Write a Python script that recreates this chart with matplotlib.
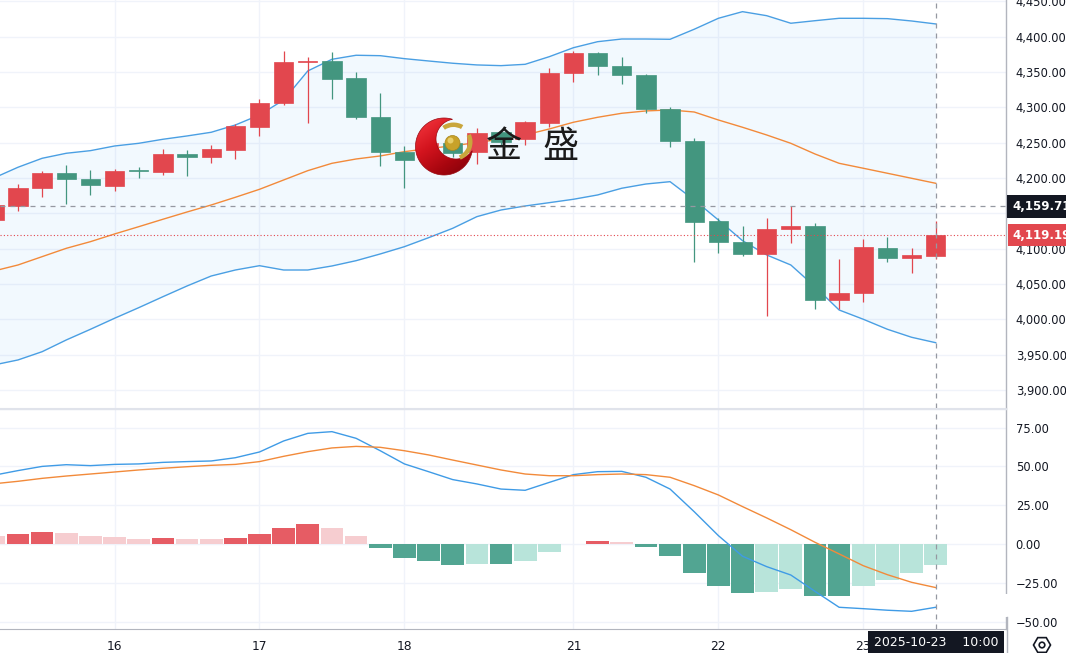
import matplotlib
matplotlib.use('Agg')
import matplotlib.pyplot as plt
import numpy as np
from matplotlib.patches import Polygon, Circle, Wedge, RegularPolygon, Rectangle
from matplotlib.lines import Line2D
from matplotlib.colors import LinearSegmentedColormap
import matplotlib.transforms as mtransforms

plt.rcParams['font.family'] = ['DejaVu Sans', 'Noto Sans CJK SC']

# ---------------- data (4H candles, first one partially visible) ----------------
opens = [4140.6, 4160.4, 4185.5, 4207.5, 4198.6, 4189.1, 4210.5, 4208.5, 4234.0, 4230.2,
         4239.7, 4272.6, 4305.7, 4364.2, 4366.0, 4341.6, 4286.8, 4237.3, 4225.5, 4249.1,
         4236.4, 4264.7, 4254.8, 4278.3, 4348.2, 4376.5, 4359.0, 4345.8, 4297.3, 4252.4,
         4139.6, 4109.0, 4092.0, 4128.3, 4132.1, 4027.4, 4036.9, 4101.4, 4086.8, 4089.6]
closes = [4161.8, 4186.3, 4207.5, 4198.2, 4190.1, 4209.9, 4209.5, 4233.6, 4230.2, 4240.6,
          4273.6, 4306.6, 4364.6, 4366.0, 4339.7, 4285.9, 4236.4, 4225.5, 4249.5, 4235.8,
          4264.1, 4251.4, 4278.9, 4348.2, 4376.5, 4359.0, 4345.8, 4297.3, 4252.4, 4137.3,
          4109.0, 4092.5, 4127.9, 4132.1, 4027.4, 4037.7, 4102.8, 4087.2, 4090.6, 4119.19]
highs = [4164.5, 4191.1, 4209.9, 4218.4, 4211.4, 4212.8, 4215.2, 4241.5, 4239.7, 4246.7,
         4276.5, 4311.8, 4379.3, 4370.8, 4377.9, 4349.6, 4319.9, 4245.3, 4256.0, 4252.0,
         4270.4, 4268.0, 4281.0, 4355.3, 4380.2, 4378.8, 4370.8, 4347.5, 4300.9, 4256.2,
         4143.1, 4132.1, 4143.8, 4159.71, 4135.9, 4085.4, 4113.7, 4116.1, 4100.5, 4139.2]
lows = [4137.0, 4153.8, 4173.6, 4163.2, 4175.6, 4182.1, 4200.5, 4204.7, 4203.3, 4221.7,
        4227.3, 4259.9, 4303.5, 4278.3, 4312.3, 4283.5, 4217.0, 4185.5, 4219.0, 4230.0,
        4219.4, 4246.0, 4246.7, 4272.6, 4336.3, 4345.8, 4332.6, 4292.4, 4244.3, 4081.6,
        4094.3, 4090.0, 4005.2, 4107.6, 4014.6, 4014.6, 4024.1, 4081.6, 4066.0, 4086.0]

bb_upper = [4200.0, 4215.2, 4227.9, 4235.0, 4238.7, 4245.3, 4249.1, 4254.8, 4259.5, 4264.7,
            4275.0, 4289.2, 4310.4, 4351.5, 4368.0, 4373.7, 4373.1, 4368.9, 4365.6, 4362.4,
            4360.0, 4359.0, 4360.9, 4371.7, 4384.4, 4392.9, 4396.7, 4396.7, 4396.3, 4410.5,
            4426.0, 4435.4, 4429.7, 4419.0, 4422.6, 4426.0, 4426.0, 4425.5, 4422.2, 4418.0]
bb_mid = [4068.4, 4076.9, 4088.7, 4100.5, 4109.9, 4120.8, 4131.1, 4141.6, 4151.9, 4161.8,
          4172.7, 4184.0, 4197.2, 4210.4, 4220.8, 4226.9, 4231.2, 4237.3, 4241.5, 4245.7,
          4250.0, 4255.2, 4260.9, 4269.4, 4278.9, 4285.9, 4291.6, 4294.9, 4296.3, 4293.4,
          4282.1, 4271.8, 4260.9, 4249.1, 4234.0, 4220.8, 4213.8, 4206.7, 4199.6, 4192.5]
bb_lower = [3935.4, 3942.5, 3954.2, 3970.8, 3985.9, 4001.5, 4016.5, 4032.0, 4047.2, 4061.3,
            4069.8, 4075.9, 4069.8, 4069.8, 4075.5, 4083.0, 4092.5, 4102.8, 4115.5, 4128.8,
            4145.3, 4154.7, 4160.4, 4165.1, 4169.9, 4176.0, 4185.5, 4191.5, 4194.8, 4168.9,
            4140.6, 4111.3, 4091.1, 4076.9, 4046.2, 4013.2, 4000.1, 3985.9, 3974.6, 3966.9]

macd_line = [44.3, 47.3, 50.0, 51.1, 50.5, 51.3, 51.6, 52.6, 53.1, 53.5,
             55.6, 59.3, 66.4, 71.3, 72.4, 68.1, 60.1, 51.6, 46.6, 41.5,
             38.7, 35.4, 34.6, 39.7, 44.7, 46.6, 46.8, 43.0, 35.4, 20.8,
             5.4, -7.9, -14.6, -20.0, -30.5, -40.8, -41.7, -42.7, -43.4, -40.8]
signal_line = [38.8, 40.4, 42.3, 43.8, 45.1, 46.4, 47.7, 48.8, 49.8, 50.7,
               51.3, 53.1, 56.5, 59.5, 61.9, 62.9, 62.3, 60.1, 57.4, 54.1,
               50.9, 47.7, 45.1, 44.0, 44.0, 44.7, 45.1, 44.7, 43.0, 37.6,
               31.6, 24.1, 16.8, 9.2, 1.1, -6.4, -14.0, -19.8, -24.7, -28.1]
histogram = [5.4, 6.7, 7.7, 7.1, 5.2, 4.7, 3.4, 4.1, 3.0, 2.9,
             4.1, 6.7, 10.5, 12.7, 10.5, 5.2, -2.8, -9.0, -11.2, -13.3,
             -12.7, -13.0, -11.2, -5.4, 0.3, 2.1, 1.5, -2.1, -7.7, -18.7,
             -26.9, -31.8, -31.1, -29.2, -33.5, -33.6, -27.3, -23.2, -18.9, -13.3]

day_labels = ['16', '17', '18', '21', '22', '23']
day_start_idx = [5, 11, 17, 24, 30, 36]
price_ticks = list(range(3900, 4451, 50))
macd_ticks = [-50, -25, 0, 25, 50, 75]
last_price = 4119.19
cross_price = 4159.71
cross_idx = 39
cross_time = '2025-10-23    10:00'
logo_text = ['金', '盛']

# ---------------- style ----------------
UP = '#e2474e'
DOWN = '#43967f'
BAND = '#4a9fe3'
BASIS = '#f28a3a'
MACD_C = '#3f9be6'
SIG_C = '#f28a3a'
GRID = '#f0f3fa'
TXT = '#131722'
H_UP_D, H_UP_L = '#e65c64', '#f6cdd0'
H_DN_D, H_DN_L = '#52a592', '#b8e4da'

W, H = 1066, 653
fig = plt.figure(figsize=(W / 100, H / 100), dpi=100)
fig.patch.set_facecolor('white')

ax1 = fig.add_axes([0, 1 - 408 / H, 1006 / W, 408 / H])
ax2 = fig.add_axes([0, 1 - 629 / H, 1006 / W, 220 / H])

n = len(closes)
x = np.arange(n)
xl = (0.255, 41.91)

for ax in (ax1, ax2):
    ax.set_xlim(*xl)
    ax.set_facecolor('white')
    for s in ('left', 'top'):
        ax.spines[s].set_visible(False)
    ax.spines['right'].set_color('#b2b5be')
    ax.spines['right'].set_linewidth(1.0)
    ax.yaxis.tick_right()
    ax.tick_params(axis='y', length=0, pad=7, labelsize=8.3, labelcolor=TXT)
    ax.set_xticks(day_start_idx)
    for xi in day_start_idx:
        ax.axvline(xi, color=GRID, lw=1.0, zorder=0)

# ---- price pane ----
ax1.set_ylim(3874.5, 4451.9)
ax1.set_yticks(price_ticks)
# the 4,150 label sits under the crosshair price box in the reference
ax1.set_yticklabels(['' if abs(v - cross_price) < 20 else f'{v:,.2f}' for v in price_ticks])
for v in price_ticks:
    ax1.axhline(v, color=GRID, lw=1.0, zorder=0)
ax1.tick_params(axis='x', length=0, labelbottom=False)
ax1.spines['bottom'].set_color('#e0e3eb')

ax1.fill_between(x, bb_lower, bb_upper, color='#2196f3', alpha=0.055, lw=0, zorder=1)
ax1.plot(x, bb_upper, color=BAND, lw=1.0, zorder=2)
ax1.plot(x, bb_lower, color=BAND, lw=1.0, zorder=2)
ax1.plot(x, bb_mid, color=BASIS, lw=1.0, zorder=2)

o = np.array(opens); c = np.array(closes)
cols = [UP if cc >= oo else DOWN for oo, cc in zip(o, c)]
ax1.vlines(x, lows, highs, colors=cols, lw=0.9, zorder=3)
bottoms = np.minimum(o, c)
heights = np.maximum(np.abs(c - o), 1.6)
ax1.bar(x, heights, bottom=bottoms, width=0.8, color=cols, edgecolor=cols, lw=0.5, zorder=4)

ax1.axhline(cross_price, color='#9598a1', lw=0.9, ls=(0, (4, 4)), zorder=5)
ax1.axhline(last_price, color=UP, lw=0.8, ls=(0, (1, 2)), zorder=5)
ax1.axvline(cross_idx, color='#9598a1', lw=0.9, ls=(0, (4, 4)), zorder=5)

# ---- MACD pane ----
ax2.set_ylim(-54.8, 87.0)
ax2.set_yticks(macd_ticks)
ax2.set_yticklabels([f'{v:.2f}'.replace('-', '\u2212') for v in macd_ticks])
for v in macd_ticks:
    ax2.axhline(v, color=GRID, lw=1.0, zorder=0)
hist = np.array(histogram)
hcols = []
for k, v in enumerate(hist):
    prev = hist[k - 1] if k > 0 else v
    if v >= 0:
        hcols.append(H_UP_D if v > prev else H_UP_L)
    else:
        hcols.append(H_DN_D if v < prev else H_DN_L)
ax2.bar(x, hist, width=0.94, color=hcols, lw=0, zorder=2)
ax2.plot(x, macd_line, color=MACD_C, lw=1.0, zorder=3)
ax2.plot(x, signal_line, color=SIG_C, lw=1.0, zorder=3)
ax2.axvline(cross_idx, color='#9598a1', lw=0.9, ls=(0, (4, 4)), zorder=5)
ax2.set_xticklabels(day_labels)
ax2.tick_params(axis='x', length=0, pad=8, labelsize=8.8, labelcolor=TXT)
ax2.spines['bottom'].set_color('#b2b5be')

# ---- right-axis labels for crosshair / last price ----
tb = mtransforms.blended_transform_factory(fig.transFigure, ax1.transData)
ax1.text(1012 / W, cross_price, f'{cross_price:,.2f}', transform=tb, ha='left', va='center',
         color='white', fontsize=8.5, fontweight='bold', clip_on=False, zorder=20,
         bbox=dict(boxstyle='square,pad=0.4', fc=TXT, ec='none'))
ax1.text(1012 / W, last_price, f'{last_price:,.2f}', transform=tb, ha='left', va='center',
         color='white', fontsize=8.5, fontweight='bold', clip_on=False, zorder=20,
         bbox=dict(boxstyle='square,pad=0.38', fc=UP, ec='none'))

# ---- overlay (pixel space): logo, time label, icons ----
ov = fig.add_axes([0, 0, 1, 1], zorder=10)
ov.axis('off'); ov.patch.set_alpha(0)

# separator between panes
ov.add_line(Line2D([0, 1006], [408.5, 408.5], color='#e0e3eb', lw=1.0))
# gap in right axis line & continuation to bottom
ov.add_patch(Rectangle((1001, 594), 11, 23, fc='white', ec='none'))
ov.add_line(Line2D([1006.5, 1006.5], [617, 653], color='#b2b5be', lw=1.0))

# time label box
ov.text(936, 643, cross_time, ha='center', va='center', color='white', fontsize=9,
        bbox=dict(boxstyle='square,pad=0.45', fc=TXT, ec='none'))

# settings icon
ov.add_patch(RegularPolygon((1042, 645), 6, radius=8.5, orientation=np.pi / 6,
                            fc='none', ec='#131722', lw=1.2))
ov.add_patch(Circle((1042, 645), 2.8, fc='none', ec='#131722', lw=1.2))


def arc_pts(c0, R, c1, r1, inside):
    t = np.linspace(0, 2 * np.pi, 721)[:-1]
    p = np.array(c0) + R * np.c_[np.cos(t), np.sin(t)]
    d = np.hypot(p[:, 0] - c1[0], p[:, 1] - c1[1])
    m = (d < r1) if inside else (d > r1)
    idx = np.where(m & ~np.roll(m, 1))[0][0]
    m2 = np.roll(m, -idx); p2 = np.roll(p, -idx, axis=0)
    k = np.argmin(m2) if not m2.all() else len(m2)
    return p2[:k]


oc, orad = (444.0, 146.5), 28.5
ic, irad = (456.0, 139.0), 20.0
outer_arc = arc_pts(oc, orad, ic, irad, inside=False)
inner_arc = arc_pts(ic, irad, oc, orad, inside=True)[::-1]
cres = Polygon(np.vstack([outer_arc, inner_arc]), closed=True, fc='none', ec='#9a0a12', lw=0.5, zorder=3)
ov.add_patch(cres)
gy, gx = np.mgrid[0:1:80j, 0:1:80j]
grad = np.clip(0.65 * gy + 0.45 * gx - 0.1, 0, 1)
cmap = LinearSegmentedColormap.from_list('cres', ['#f0323a', '#d3141e', '#a8060f', '#7c0009'])
im = ov.imshow(grad, extent=(415, 473, 176, 117), cmap=cmap, aspect='auto',
               interpolation='bilinear', zorder=2)
im.set_clip_path(cres)
# gold swooshes and ball
ov.add_patch(Wedge((453.5, 142), 19.5, 235, 300, width=4.5, fc='#c9a63c', ec='none', zorder=4))
ov.add_patch(Wedge((453.5, 142), 19.0, -25, 68, width=4.5, fc='#c9a63c', ec='none', zorder=4))
ov.add_patch(Circle((452.5, 143), 7.5, fc='#c8a22a', ec='#a8861c', lw=0.5, zorder=5))
ov.add_patch(Circle((450.5, 140.5), 3.0, fc='#efd97a', ec='none', alpha=0.8, zorder=6))
ov.text(504, 147, logo_text[0], ha='center', va='center', fontsize=26, color='#1b1b1b',
        family=['Noto Sans CJK SC'], zorder=6)
ov.text(560, 147, logo_text[1], ha='center', va='center', fontsize=26, color='#1b1b1b',
        family=['Noto Sans CJK SC'], zorder=6)

ov.set_xlim(0, W); ov.set_ylim(H, 0)
fig.savefig('out.png', dpi=100, facecolor='white')
